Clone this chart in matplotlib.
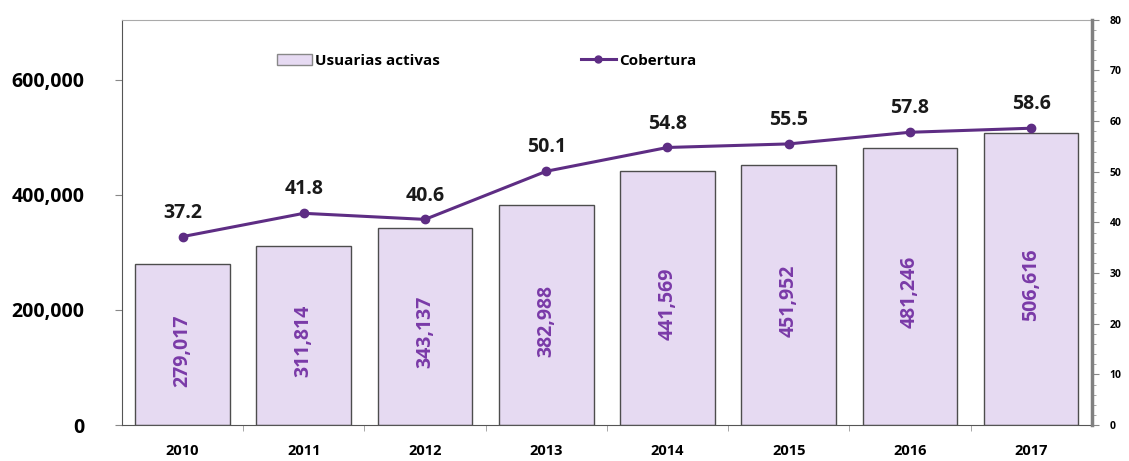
import numpy as np
import matplotlib.pyplot as plt
from matplotlib.ticker import FuncFormatter, MultipleLocator
from matplotlib.lines import Line2D
from matplotlib.patches import Patch

years = ["2010", "2011", "2012", "2013", "2014", "2015", "2016", "2017"]
usuarias = [279017, 311814, 343137, 382988, 441569, 451952, 481246, 506616]
cobertura = [37.2, 41.8, 40.6, 50.1, 54.8, 55.5, 57.8, 58.6]

plt.rcParams['font.family'] = ['Open Sans', 'DejaVu Sans']

bar_face = '#E6DAF2'
bar_edge = '#4d4d4d'
label_purple = '#7a3aa8'
line_purple = '#5e2d84'

fig = plt.figure(figsize=(11.29, 4.61), dpi=100)
ax = fig.add_axes([0.108, 0.078, 0.859, 0.879])
x = np.arange(len(years))

ax.bar(x, usuarias, width=0.78, color=bar_face, edgecolor=bar_edge, linewidth=1.0, zorder=2)
for xi, v in zip(x, usuarias):
    ax.text(xi, v / 2 - 10000, f"{v:,}", rotation=90, ha='center', va='center',
            color=label_purple, fontsize=14, fontweight='bold', zorder=3)

ax.set_xlim(-0.5, len(years) - 0.5)
ax.set_ylim(0, 704000)
ax.set_yticks([0, 200000, 400000, 600000])
ax.yaxis.set_major_formatter(FuncFormatter(lambda v, p: f"{int(v):,}"))
ax.set_xticks(x)
ax.set_xticklabels(years, fontsize=10.5, fontweight='bold')
ax.tick_params(axis='y', labelsize=14, length=5, color='#888888', pad=22)
ax.tick_params(axis='x', length=0, pad=14)
for lab in ax.get_yticklabels():
    lab.set_fontweight('bold')
# small tick marks between categories on the bottom axis
ax.set_xticks(x[:-1] + 0.5, minor=True)
ax.tick_params(axis='x', which='minor', length=4, color='#999999')

ax.spines['left'].set_color('#555555')
ax.spines['bottom'].set_color('#555555')
ax.spines['top'].set_color('#aaaaaa')
ax.spines['right'].set_visible(False)

ax2 = ax.twinx()
ax2.set_ylim(0, 80)
ax2.yaxis.set_major_locator(MultipleLocator(10))
ax2.yaxis.set_minor_locator(MultipleLocator(2))
ax2.tick_params(axis='y', which='major', labelsize=7.5, length=5, color='#888888', pad=8)
ax2.tick_params(axis='y', which='minor', length=3, color='#999999')
for lab in ax2.get_yticklabels():
    lab.set_fontweight('bold')
ax2.spines['right'].set_color('#808080')
ax2.spines['right'].set_linewidth(2.5)
for s in ['left', 'top', 'bottom']:
    ax2.spines[s].set_visible(False)

ax2.plot(x, cobertura, color=line_purple, linewidth=2.2, marker='o', markersize=6, zorder=4)
for xi, c in zip(x, cobertura):
    ax2.annotate(f"{c:.1f}", (xi, c), xytext=(0, 10), textcoords='offset points',
                 ha='center', va='bottom', fontsize=14, fontweight='bold', color='#1a1a1a')

handles = [Patch(facecolor=bar_face, edgecolor='#888888', linewidth=1.0),
           Line2D([], [], color=line_purple, linewidth=2.2, marker='o', markersize=5)]
leg = ax.legend(handles, ["Usuarias activas", "Cobertura"], loc='upper left',
                bbox_to_anchor=(0.146, 0.95), ncol=2, frameon=False, columnspacing=9.2,
                handlelength=2.3, handletextpad=0.2,
                prop={'weight': 'bold', 'size': 11})

fig.savefig('out.png', dpi=100)
